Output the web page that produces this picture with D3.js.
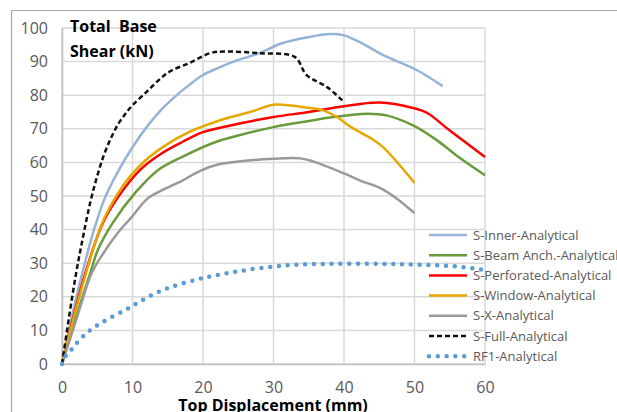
<!DOCTYPE html>
<html>
<head>
<meta charset="utf-8">
<script src="https://cdn.jsdelivr.net/npm/d3@7"></script>
<style>
  body { margin: 0; background: #fff; }
  svg { display: block; }
</style>
</head>
<body>
<svg width="617" height="412"></svg>
<script>
var width = 617;
var height = 412;

// series as [displacement (mm), base shear (kN)]
var inner = [[0,0],[1.5,15],[3,28],[4.4,39],[6,49],[8,57.5],[10,64.5],[12,70.5],[14,75.5],[16,79.5],[18,83],[20,86],[22,88],[25,90.5],[28,92.5],[31,95.3],[35,97.3],[38,98.2],[40,97.8],[42.5,95.5],[45.5,92],[50.3,87.5],[54,82.7]];
var beam = [[0,0],[2,14],[4,27],[5.1,34],[7.2,42],[10.4,51],[13.6,57.7],[17,61.6],[21.7,66],[25,68],[30,70.5],[35,72.3],[38.5,73.5],[43.3,74.5],[46,74],[49.8,71],[53.1,66.7],[56,62],[60,56.2]];
var perforated = [[0,0],[1.5,13],[3.3,27],[5.8,42],[8.4,51],[11.2,58],[14,62.5],[17,66],[20,69],[25,71.5],[30,73.5],[35,75],[40,76.7],[45,77.8],[49.8,76.2],[51.8,74.7],[55,69.5],[60,61.6]];
var windowS = [[0,0],[1.5,12.5],[3.4,27],[4.7,36],[6.1,43.8],[8.9,53.8],[11.9,60.7],[15,65.5],[18,69],[21,71.5],[24,73.5],[27,75.2],[30.2,77.2],[34,76.5],[37,75.5],[39,73.5],[41,70.5],[43.7,67.3],[45.5,64.6],[50,53.9]];
var xS = [[0,0],[2,13],[4.1,26.5],[5.5,31.8],[7.9,39],[10,44],[12,49],[14,51.5],[17,54.5],[19.6,57.5],[22.4,59.5],[26,60.5],[30,61.1],[33.8,61.2],[35.6,60.3],[39.9,56.8],[42.3,54.6],[45.1,52.4],[47.5,49.2],[50,44.9]];
var full = [[0,0],[1,14],[2,27],[3,38],[4,48],[5,56],[6,62.5],[7,67.5],[8,71.5],[9,74.5],[10,77],[12,81],[14,85],[15.5,87.3],[18,89.5],[21,92.5],[23,93],[28,92.5],[33,91.4],[34.7,86],[37.6,82.4],[40,78]];
var rf1 = [[0,0],[0.4,2],[1.3,4.2],[2,6],[3.7,9.6],[5.8,12.5],[8.9,16],[11,18.5],[13.2,21],[15.6,23],[18.9,25],[21.4,26.2],[25,27.6],[30,29],[35,29.7],[45,29.8],[50,29.6],[55,29.2],[60,28]];

var seriesNames = ['S-Inner-Analytical', 'S-Beam Anch.-Analytical', 'S-Perforated-Analytical', 'S-Window-Analytical', 'S-X-Analytical', 'S-Full-Analytical', 'RF1-Analytical'];
var seriesData = [inner, beam, perforated, windowS, xS, full, rf1];
var seriesColors = ['#95B3D7', '#6A9A3A', '#FF0000', '#E6A800', '#999999', '#111111', '#5B9BD5'];

var xTicks = [0, 10, 20, 30, 40, 50, 60];
var yTicks = [0, 10, 20, 30, 40, 50, 60, 70, 80, 90, 100];

var svg = d3.select('svg');

// outer chart border (only top and left fall inside the picture)
svg.append('path')
  .attr('d', 'M11.5,' + height + 'V10.5H' + width)
  .attr('fill', 'none')
  .attr('stroke', '#A6A6A6')
  .attr('stroke-width', 1.2);

var xScale = d3.scaleLinear().domain([0, 60]).range([62, 485]);
var yScale = d3.scaleLinear().domain([0, 100]).range([364, 28]);

// gridlines
var grid = svg.append('g');
grid.selectAll('line.v').data(xTicks).enter()
  .append('line')
  .attr('x1', function(d) { return xScale(d); })
  .attr('x2', function(d) { return xScale(d); })
  .attr('y1', yScale(0))
  .attr('y2', yScale(100))
  .attr('stroke', '#D9D9D9')
  .attr('stroke-width', 1.5);
grid.selectAll('line.h').data(yTicks).enter()
  .append('line')
  .attr('x1', xScale(0))
  .attr('x2', xScale(60))
  .attr('y1', function(d) { return yScale(d); })
  .attr('y2', function(d) { return yScale(d); })
  .attr('stroke', '#D9D9D9')
  .attr('stroke-width', 1.5);

// axes
var axisLeft = d3.axisLeft(yScale).tickValues(yTicks).tickSize(0).tickPadding(14);
var gy = svg.append('g').attr('transform', 'translate(' + xScale(0) + ',0)').call(axisLeft);
var axisBottom = d3.axisBottom(xScale).tickValues(xTicks).tickSize(0).tickPadding(18);
var gx = svg.append('g').attr('transform', 'translate(0,' + yScale(0) + ')').call(axisBottom);
[gx, gy].forEach(function(g) {
  g.select('.domain').attr('stroke', '#BFBFBF').attr('stroke-width', 1.5);
  g.selectAll('text')
    .attr('font-family', '"Open Sans", sans-serif')
    .attr('font-size', '16px')
    .attr('fill', '#595959');
});

// lines
var line = d3.line()
  .x(function(d) { return xScale(d[0]); })
  .y(function(d) { return yScale(d[1]); })
  .curve(d3.curveCatmullRom.alpha(0.5));

function styleLine(sel, i) {
  sel.attr('fill', 'none')
    .attr('stroke', seriesColors[i])
    .attr('stroke-width', i == 6 ? 4.5 : 2.5);
  if (i == 5) sel.attr('stroke-dasharray', '5,3');
  if (i == 6) sel.attr('stroke-dasharray', '0,8.8').attr('stroke-linecap', 'round');
}

var linesGroup = svg.append('g');
seriesData.forEach(function(data, i) {
  linesGroup.append('path')
    .attr('d', line(data))
    .call(styleLine, i);
});

// legend
var legend = svg.append('g');
seriesNames.forEach(function(name, i) {
  var y = 235 + i * 20.2;
  legend.append('line')
    .attr('x1', 429).attr('x2', 467)
    .attr('y1', y).attr('y2', y)
    .call(styleLine, i);
  legend.append('text')
    .attr('x', 473)
    .attr('y', y + 4.5)
    .attr('font-family', '"Open Sans", sans-serif')
    .attr('font-size', '13px')
    .attr('fill', '#595959')
    .text(name);
});

// axis titles
svg.append('text')
  .attr('x', 70).attr('y', 32)
  .attr('font-family', '"Open Sans", sans-serif')
  .attr('font-weight', 'bold')
  .attr('font-size', '16px')
  .attr('fill', '#000')
  .attr('xml:space', 'preserve')
  .text('Total  Base');
svg.append('text')
  .attr('x', 70).attr('y', 57)
  .attr('font-family', '"Open Sans", sans-serif')
  .attr('font-weight', 'bold')
  .attr('font-size', '16px')
  .attr('fill', '#000')
  .text('Shear (kN)');
svg.append('text')
  .attr('x', 273).attr('y', 411)
  .attr('text-anchor', 'middle')
  .attr('font-family', '"Open Sans", sans-serif')
  .attr('font-weight', 'bold')
  .attr('font-size', '16px')
  .attr('fill', '#000')
  .text('Top Displacement (mm)');
</script>
</body>
</html>
